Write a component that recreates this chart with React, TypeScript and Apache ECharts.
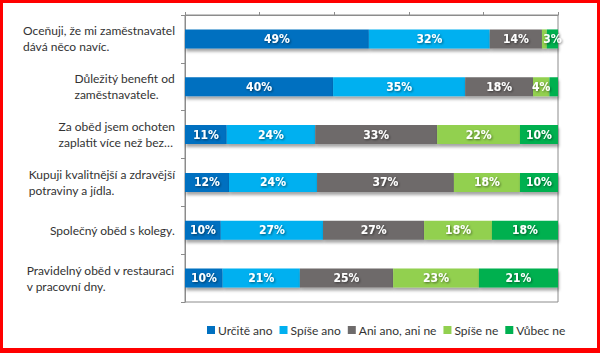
import React, { useEffect, useRef } from "react";
import * as echarts from "echarts";

const categories = [
  "Oceňuji, že mi zaměstnavatel\ndává něco navíc.",
  "Důležitý benefit od\nzaměstnavatele.",
  "Za oběd jsem ochoten\nzaplatit více než bez…",
  "Kupuji kvalitnější a zdravější\npotraviny a jídla.",
  "Společný oběd s kolegy.",
  "Pravidelný oběd v restauraci\nv pracovní dny.",
];

const seriesNames = ["Určitě ano", "Spíše ano", "Ani ano, ani ne", "Spíše ne", "Vůbec ne"];
const seriesColors = ["#0070C0", "#00B0F0", "#6E6B6B", "#92D050", "#00B050"];

const urciteAno = [49.3, 39.7, 11.2, 11.8, 9.6, 10.1];
const spiseAno = [32.4, 35.4, 23.7, 23.6, 27.4, 20.7];
const aniAnoAniNe = [14.0, 18.2, 32.7, 36.7, 27.1, 25.0];
const spiseNe = [1.3, 4.4, 22.2, 17.7, 18.2, 23.0];
const vubecNe = [3.0, 2.3, 10.2, 10.2, 17.7, 21.2];

const seriesValues = [urciteAno, spiseAno, aniAnoAniNe, spiseNe, vubecNe];

const xTicks = [0, 20, 40, 60, 80, 100];

const FONT = "Lato, sans-serif";

export default function App() {
  const ref = useRef<HTMLDivElement>(null);
  useEffect(() => {
    document.body.style.margin = "0";
    const chart = echarts.init(ref.current!, null, { renderer: "svg" });
    chart.setOption({
      animation: false,
      backgroundColor: "#ffffff",
      textStyle: { fontFamily: FONT },
      grid: {
        left: 185,
        right: 42,
        top: 15,
        bottom: 51,
        show: true,
        borderColor: "#8c8c8c",
        borderWidth: 1,
      },
      legend: {
        bottom: 12,
        left: 202,
        width: 450,
        icon: "rect",
        itemWidth: 8,
        itemHeight: 8,
        itemGap: 7,
        textStyle: { fontSize: 12, color: "#333333", fontFamily: FONT, padding: [0, 0, 0, -2] },
        data: seriesNames,
      },
      xAxis: {
        type: "value",
        position: "top",
        min: xTicks[0],
        max: xTicks[xTicks.length - 1],
        interval: 20,
        axisLine: { show: true, lineStyle: { color: "#8c8c8c" } },
        axisTick: { show: true, length: 3, lineStyle: { color: "#8c8c8c" } },
        axisLabel: { show: false },
        splitLine: { show: false },
      },
      yAxis: {
        type: "category",
        inverse: true,
        data: categories,
        axisLine: { show: true, lineStyle: { color: "#8c8c8c" } },
        axisTick: { show: true, length: 4, lineStyle: { color: "#8c8c8c" } },
        axisLabel: {
          margin: 10,
          formatter: (v: string) =>
            v
              .split("\n")
              .map((l) => `{a|${l}}`)
              .join("\n"),
          rich: {
            a: {
              align: "left",
              fontSize: 12,
              lineHeight: 16,
              color: "#333333",
              fontFamily: FONT,
            },
          },
        },
      },
      series: seriesNames.map((name, i) => ({
        name,
        type: "bar",
        stack: "total",
        barWidth: 19,
        data: seriesValues[i],
        itemStyle: {
          color: seriesColors[i],
          shadowColor: "rgba(0,0,0,0.35)",
          shadowBlur: 3,
          shadowOffsetY: 3,
          shadowOffsetX: 1,
        },
        label: {
          show: true,
          position: "inside",
          color: "#ffffff",
          fontWeight: "bold",
          fontSize: 12,
          fontFamily: "'DejaVu Sans Condensed', sans-serif",
          textShadowColor: "rgba(0,0,0,0.5)",
          textShadowBlur: 2,
          textShadowOffsetX: 1,
          textShadowOffsetY: 1,
          formatter: (p: any) => {
            const r = Math.round(p.value);
            return r >= 3 ? `${r}%` : "";
          },
        },
      })),
    });
    return () => chart.dispose();
  }, []);
  return (
    <div style={{ position: "relative", width: 600, height: 353 }}>
      <div ref={ref} style={{ position: "absolute", left: 0, top: 0, width: 600, height: 353 }} />
      <div
        style={{
          position: "absolute",
          left: 0,
          top: 0,
          width: 600,
          height: 353,
          boxSizing: "border-box",
          borderStyle: "solid",
          borderColor: "#ff0000",
          borderWidth: "3px 3px 5px 3px",
          pointerEvents: "none",
        }}
      />
    </div>
  );
}
